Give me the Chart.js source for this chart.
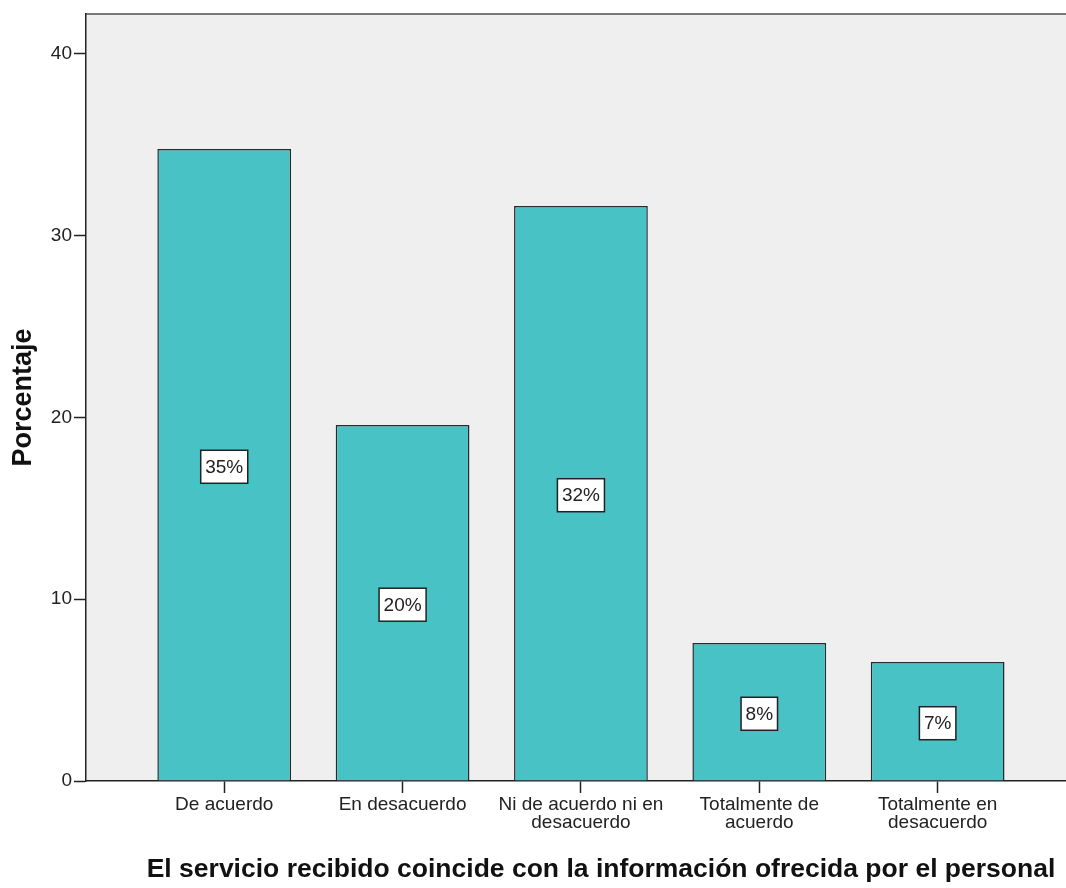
<!DOCTYPE html>
<html>
<head>
	<title>El servicio recibido</title>
	<script src="https://cdn.jsdelivr.net/npm/chart.js@4.4.1/dist/chart.umd.min.js"></script>
	<style>
		html, body { margin: 0; padding: 0; background: #fff; overflow: hidden; }
		#wrap { width: 1120px; height: 888px; }
	</style>
</head>
<body>
	<div id="wrap">
		<canvas id="chart" width="1120" height="888"></canvas>
	</div>

	<script type="text/javascript">
		var categories = [
			'De acuerdo',
			'En desacuerdo',
			['Ni de acuerdo ni en', 'desacuerdo'],
			['Totalmente de', 'acuerdo'],
			['Totalmente en', 'desacuerdo']
		];
		var porcentaje = [34.77, 19.59, 31.64, 7.59, 6.55];
		var yTicks = [0, 10, 20, 30, 40];

		var fontFam = '"Liberation Sans", Arial, sans-serif';

		// fondo gris del área de gráfico + borde superior
		var plotBg = {
			id: 'plotBg',
			beforeDraw: function (chart) {
				var a = chart.chartArea, c = chart.ctx;
				c.save();
				c.fillStyle = '#efefef';
				c.fillRect(a.left, a.top, a.right - a.left, a.bottom - a.top);
				c.strokeStyle = '#7a7a7a';
				c.lineWidth = 2;
				c.beginPath();
				c.moveTo(a.left, a.top);
				c.lineTo(a.right, a.top);
				c.stroke();
				c.restore();
			}
		};

		// etiquetas con recuadro blanco en el centro de cada barra
		var boxLabels = {
			id: 'boxLabels',
			afterDatasetsDraw: function (chart) {
				var c = chart.ctx;
				var meta = chart.getDatasetMeta(0);
				c.save();
				c.font = '19px ' + fontFam;
				c.textAlign = 'center';
				c.textBaseline = 'middle';
				meta.data.forEach(function (bar, i) {
					var txt = Math.round(porcentaje[i]) + '%';
					var w = c.measureText(txt).width + 9;
					var h = 33;
					var cx = bar.x;
					var cy = (bar.y + bar.base) / 2 + 2;
					c.fillStyle = '#fff';
					c.fillRect(cx - w / 2, cy - h / 2, w, h);
					c.strokeStyle = '#222';
					c.lineWidth = 1.5;
					c.strokeRect(cx - w / 2, cy - h / 2, w, h);
					c.fillStyle = '#222';
					c.fillText(txt, cx, cy + 1);
				});
				c.restore();
			}
		};

		var points = porcentaje.map(function (v, i) { return { x: i, y: v }; });

		var config = {
			type: 'bar',
			data: {
				datasets: [{
					label: 'Porcentaje',
					data: points,
					backgroundColor: '#48c2c5',
					borderColor: '#2a2a2a',
					borderWidth: 1.5,
					barPercentage: 0.75,
					categoryPercentage: 1
				}]
			},
			options: {
				responsive: false,
				animation: false,
				layout: { padding: { top: 14, left: 0, right: 4, bottom: 0 } },
				plugins: {
					legend: { display: false },
					tooltip: { enabled: false }
				},
				scales: {
					x: {
						type: 'linear',
						offset: false,
						min: -0.775,
						max: 5.0,
						afterBuildTicks: function (axis) {
							axis.ticks = categories.map(function (_, i) { return { value: i }; });
						},
						afterFit: function (axis) { axis.height = 107; },
						grid: { offset: false, drawOnChartArea: false, color: '#222', tickLength: 12, tickWidth: 1.5 },
						border: { color: '#222', width: 1.5 },
						ticks: {
							autoSkip: false,
							maxRotation: 0,
							padding: 3,
							color: '#222',
							font: { family: fontFam, size: 19, lineHeight: '18px' },
							callback: function (value) { return categories[value]; }
						},
						title: {
							display: true,
							text: 'El servicio recibido coincide con la información ofrecida por el personal',
							color: '#111',
							font: { family: fontFam, size: 26.5, weight: 'bold' },
							padding: { top: 0, bottom: 2 }
						}
					},
					y: {
						min: 0,
						max: 42.2,
						afterBuildTicks: function (axis) {
							axis.ticks = yTicks.map(function (v) { return { value: v }; });
						},
						afterFit: function (axis) { axis.width = 86; },
						grid: { drawOnChartArea: false, color: '#222', tickLength: 12, tickWidth: 1.5 },
						border: { color: '#222', width: 1.5 },
						ticks: {
							padding: 2,
							color: '#222',
							font: { family: fontFam, size: 19 }
						},
						title: {
							display: true,
							text: 'Porcentaje',
							color: '#111',
							font: { family: fontFam, size: 27, weight: 'bold' },
							padding: { top: 7, bottom: 0 }
						}
					}
				}
			},
			plugins: [plotBg, boxLabels]
		};

		var ctx = document.getElementById('chart').getContext('2d');
		var chart = new Chart(ctx, config);
	</script>
</body>
</html>
